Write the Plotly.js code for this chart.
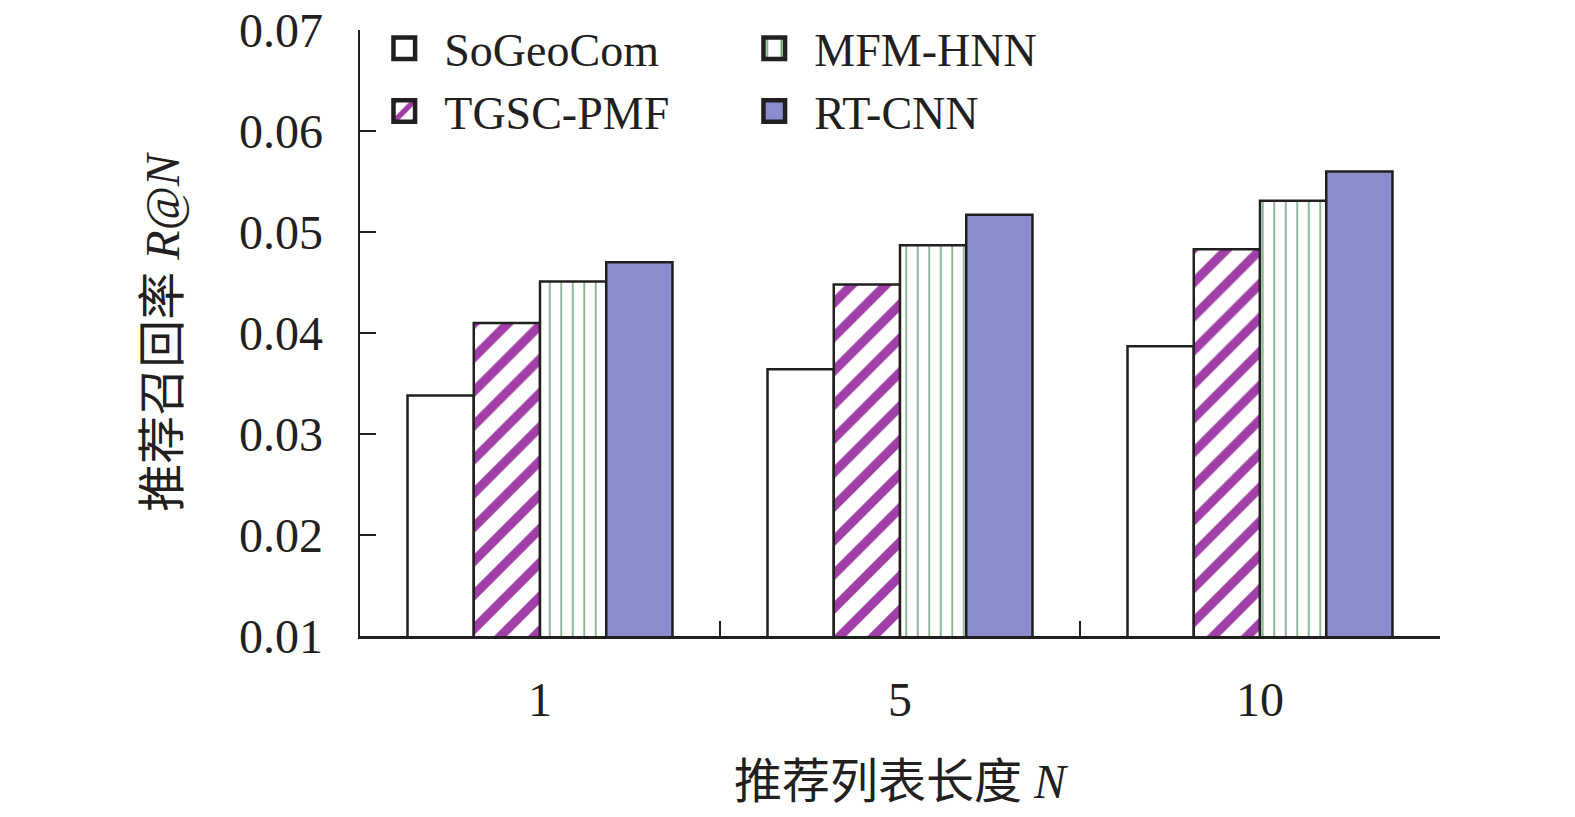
<!DOCTYPE html>
<html>
<head>
<meta charset="utf-8">
<script src="https://cdn.plot.ly/plotly-3.0.1.min.js"></script>
<style>
  html, body { margin: 0; padding: 0; background: #fff; }
  #chart { width: 1575px; height: 817px; }
  /* bigger legend swatches, as in the printed figure */
  #chart .legend .legendpoints path { transform: scale(1.8); }
  #chart .legend .scrollbox, #chart .legend { clip-path: none !important; }
</style>
</head>
<body>
<div id="chart"></div>
<script>
// 推荐列表长度 N
const listLength = ['1', '5', '10'];
// 推荐召回率 R@N
const soGeoCom = [0.0338, 0.0364, 0.0387];
const tgscPmf = [0.0410, 0.0448, 0.0483];
const mfmHnn = [0.0451, 0.0487, 0.0531];
const rtCnn = [0.0470, 0.0517, 0.0560];

const serif = 'Liberation Serif, Times New Roman, Noto Sans CJK SC, serif';
const edge = { color: '#231f20', width: 2.5 };

const bar = (name, y, rank, fill, pattern) => ({
    type: 'bar',
    name: name,
    x: listLength,
    y: y,
    legendrank: rank,
    marker: {
        color: fill,
        line: edge,
        pattern: pattern,
    },
    hoverinfo: 'y+name',
});

const data = [
    bar('SoGeoCom', soGeoCom, 1, '#ffffff'),
    bar('TGSC-PMF', tgscPmf, 3, '#ffffff', { shape: '/', fgcolor: '#a03fa8', bgcolor: '#ffffff', size: 24, solidity: 0.38, fgopacity: 1, fillmode: 'replace' }),
    bar('MFM-HNN', mfmHnn, 2, '#ffffff', { shape: '|', fgcolor: '#3f8a4c', bgcolor: '#ffffff', size: 11.5, solidity: 0.12, fgopacity: 0.85, fillmode: 'replace' }),
    bar('RT-CNN', rtCnn, 4, '#8a8ccc'),
];

const layout = {
    width: 1575,
    height: 817,
    paper_bgcolor: '#ffffff',
    plot_bgcolor: '#ffffff',
    margin: { t: 28, b: 181, l: 360, r: 135 },
    font: { family: serif, size: 48, color: '#231f20' },
    barmode: 'group',
    bargap: 0.264,
    bargroupgap: 0,
    showlegend: true,
    legend: {
        orientation: 'h',
        x: 0.041,
        xanchor: 'left',
        y: 1.03,
        yanchor: 'top',
        entrywidth: 325,
        font: { family: serif, size: 46, color: '#231f20' },
        bgcolor: 'rgba(0,0,0,0)',
        tracegroupgap: 0,
        itemwidth: 30,
    },
    xaxis: {
        type: 'category',
        showline: true,
        linecolor: '#231f20',
        linewidth: 2.5,
        ticks: 'inside',
        tickson: 'boundaries',
        ticklen: 15,
        tickwidth: 2.5,
        tickcolor: '#231f20',
        ticklabelstandoff: 20,
        showgrid: false,
        zeroline: false,
        tickfont: { family: serif, size: 48 },
        title: { text: '推荐列表长度 <i>N</i>', font: { family: serif, size: 48 }, standoff: 40 },
    },
    yaxis: {
        range: [0.01, 0.07],
        dtick: 0.01,
        tick0: 0.01,
        tickformat: '.2f',
        showline: true,
        linecolor: '#231f20',
        linewidth: 2.5,
        ticks: 'inside',
        ticklen: 16,
        tickwidth: 2.5,
        tickcolor: '#231f20',
        ticklabelstandoff: 25,
        showgrid: false,
        zeroline: false,
        tickfont: { family: serif, size: 48 },
        title: { text: '推荐召回率 <i>R@N</i>', font: { family: serif, size: 48 }, standoff: 44 },
    },
};

Plotly.newPlot('chart', data, layout, { displayModeBar: false, staticPlot: true });
</script>
</body>
</html>
